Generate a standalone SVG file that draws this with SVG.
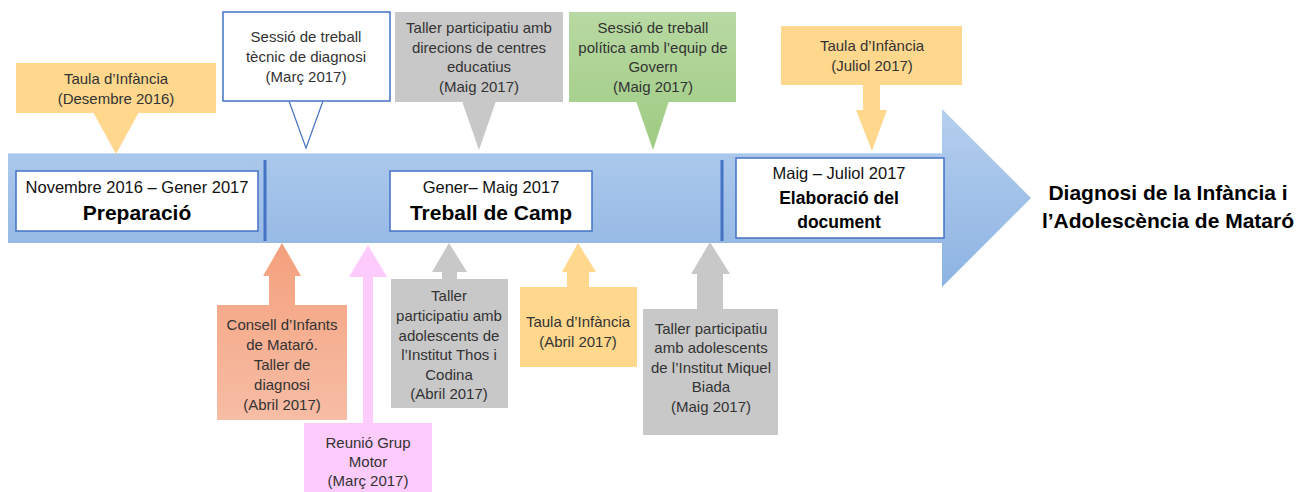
<svg xmlns="http://www.w3.org/2000/svg" width="1297" height="492" viewBox="0 0 1297 492">
<defs>
<linearGradient id="gBlue" gradientUnits="userSpaceOnUse" x1="0" y1="109" x2="0" y2="287">
<stop offset="0" stop-color="#b5cfee"/><stop offset="1" stop-color="#8db3e2"/>
</linearGradient>
<linearGradient id="gGreen" gradientUnits="userSpaceOnUse" x1="0" y1="12" x2="0" y2="150">
<stop offset="0" stop-color="#b8d9a3"/><stop offset="1" stop-color="#9ecb82"/>
</linearGradient>
<linearGradient id="gSalmon" gradientUnits="userSpaceOnUse" x1="0" y1="243" x2="0" y2="420">
<stop offset="0" stop-color="#f4a07c"/><stop offset="1" stop-color="#f7bda5"/>
</linearGradient>
<linearGradient id="gOrange" x1="0" y1="0" x2="0" y2="1">
<stop offset="0" stop-color="#ffdb96"/><stop offset="1" stop-color="#ffd480"/>
</linearGradient>
</defs>
<style>
.t{font-family:"Liberation Sans",Arial,sans-serif;font-size:15px;fill:#333333;text-anchor:middle}
.h{font-family:"Liberation Sans",Arial,sans-serif;font-size:16.5px;fill:#111111;text-anchor:middle}
.b{font-family:"Liberation Sans",Arial,sans-serif;font-weight:bold;fill:#000000;text-anchor:middle}
.orange{fill:#ffd88e}
.gray{fill:#c8c8c8}
.pink{fill:#fdcbfc}
.box{fill:#ffffff;stroke:#4472c4;stroke-width:1.5}
.div{stroke:#4472c4;stroke-width:3}
</style>

<g id="timeline">
<path d="M8,153 L942,153 L942,109 L1031,198 L942,287 L942,243 L8,243 Z" fill="url(#gBlue)"/>
<path d="M8,153.5 L942,153.5" stroke="#c6daf2" stroke-width="1"/>
<line class="div" x1="265" y1="160" x2="265" y2="241"/>
<line class="div" x1="722" y1="160" x2="722" y2="241"/>
</g>

<g id="connectors">
<path class="orange" d="M93,112 L116,154 L139,112 Z"/>
<path fill="#ffffff" d="M289.5,99.5 L289.5,101 L306,148 L322.5,101 L322.5,99.5 Z"/>
<path d="M289,101 L306,148 L323,101" fill="none" stroke="#4472c4" stroke-width="1.2"/>
<path class="gray" d="M462,101 L479,150 L496,101 Z"/>
<path fill="url(#gGreen)" d="M636,101 L653,150 L669,101 Z"/>
<path class="orange" d="M863,84 L880,84 L880,110 L887,110 L872,151 L856,110 L863,110 Z"/>
<path fill="url(#gSalmon)" d="M269,306 L269,276 L263,276 L282,243 L301,276 L295,276 L295,306 Z"/>
<path class="pink" d="M363,424 L363,277 L349,277 L368,245 L387,277 L373,277 L373,424 Z"/>
<path class="gray" d="M442,280 L442,272 L432,272 L449,243 L467,272 L457,272 L457,280 Z"/>
<path class="orange" d="M567,288 L567,272 L562,272 L578,243 L596,272 L589,272 L589,288 Z"/>
<path class="gray" d="M697,310 L697,274 L691,274 L710,242 L730,274 L723,274 L723,310 Z"/>
</g>

<g id="phase-preparacio">
<rect class="box" x="16" y="171" width="242" height="60"/>
<text class="h" x="137" y="193">Novembre 2016 – Gener 2017</text>
<text class="b" x="137" y="220" font-size="21">Preparació</text>
</g>

<g id="phase-treball">
<rect class="box" x="390" y="171" width="202" height="60"/>
<text class="h" x="491" y="193">Gener– Maig 2017</text>
<text class="b" x="491" y="220" font-size="21">Treball de Camp</text>
</g>

<g id="phase-elaboracio">
<rect class="box" x="736" y="158" width="208" height="80"/>
<text class="h" x="839" y="179">Maig – Juliol 2017</text>
<text class="b" x="839" y="204" font-size="17.5">Elaboració del</text>
<text class="b" x="839" y="228" font-size="17.5">document</text>
</g>

<g id="result">
<text class="b" x="1168" y="200" font-size="21">Diagnosi de la Infància i</text>
<text class="b" x="1168" y="228" font-size="21">l’Adolescència de Mataró</text>
</g>

<g id="taula-desembre">
<rect class="orange" x="16" y="63" width="200" height="50"/>
<text class="t" x="116" y="84">Taula d’Infància</text>
<text class="t" x="116" y="104">(Desembre 2016)</text>
</g>

<g id="sessio-tecnic">
<rect class="box" x="223" y="12" width="167" height="89" stroke-width="1.2"/>
<text class="t" x="306" y="42">Sessió de treball</text>
<text class="t" x="306" y="62">tècnic de diagnosi</text>
<text class="t" x="306" y="82">(Març 2017)</text>
</g>

<g id="taller-direcions">
<rect class="gray" x="395" y="12" width="168" height="90"/>
<text class="t" x="479" y="33">Taller participatiu amb</text>
<text class="t" x="479" y="53">direcions de centres</text>
<text class="t" x="479" y="72">educatius</text>
<text class="t" x="479" y="92">(Maig 2017)</text>
</g>

<g id="sessio-politica">
<rect fill="url(#gGreen)" x="569" y="12" width="167" height="90"/>
<text class="t" x="653" y="33">Sessió de treball</text>
<text class="t" x="653" y="53">política amb l’equip de</text>
<text class="t" x="653" y="72">Govern</text>
<text class="t" x="653" y="92">(Maig 2017)</text>
</g>

<g id="taula-juliol">
<rect class="orange" x="781" y="26" width="181" height="59"/>
<text class="t" x="872" y="51">Taula d’Infància</text>
<text class="t" x="872" y="71">(Juliol 2017)</text>
</g>

<g id="consell-infants">
<rect fill="url(#gSalmon)" x="217" y="305" width="130" height="115"/>
<text class="t" x="282" y="330">Consell d’Infants</text>
<text class="t" x="282" y="350">de Mataró.</text>
<text class="t" x="282" y="370">Taller de</text>
<text class="t" x="282" y="390">diagnosi</text>
<text class="t" x="282" y="410">(Abril 2017)</text>
</g>

<g id="reunio-grup-motor">
<rect class="pink" x="304" y="423" width="128" height="69"/>
<text class="t" x="368" y="448">Reunió Grup</text>
<text class="t" x="368" y="467">Motor</text>
<text class="t" x="368" y="486">(Març 2017)</text>
</g>

<g id="taller-thos-codina">
<rect class="gray" x="391" y="279" width="117" height="129"/>
<text class="t" x="449" y="301">Taller</text>
<text class="t" x="449" y="321">participatiu amb</text>
<text class="t" x="449" y="341">adolescents de</text>
<text class="t" x="449" y="360">l’Institut Thos i</text>
<text class="t" x="449" y="380">Codina</text>
<text class="t" x="449" y="399">(Abril 2017)</text>
</g>

<g id="taula-abril">
<rect class="orange" x="520" y="287" width="117" height="80"/>
<text class="t" x="578" y="327">Taula d’Infància</text>
<text class="t" x="578" y="347">(Abril 2017)</text>
</g>

<g id="taller-miquel-biada">
<rect class="gray" x="643" y="309" width="135" height="126"/>
<text class="t" x="711" y="334">Taller participatiu</text>
<text class="t" x="711" y="353">amb adolescents</text>
<text class="t" x="711" y="373">de l’Institut Miquel</text>
<text class="t" x="711" y="392">Biada</text>
<text class="t" x="711" y="412">(Maig 2017)</text>
</g>
</svg>
